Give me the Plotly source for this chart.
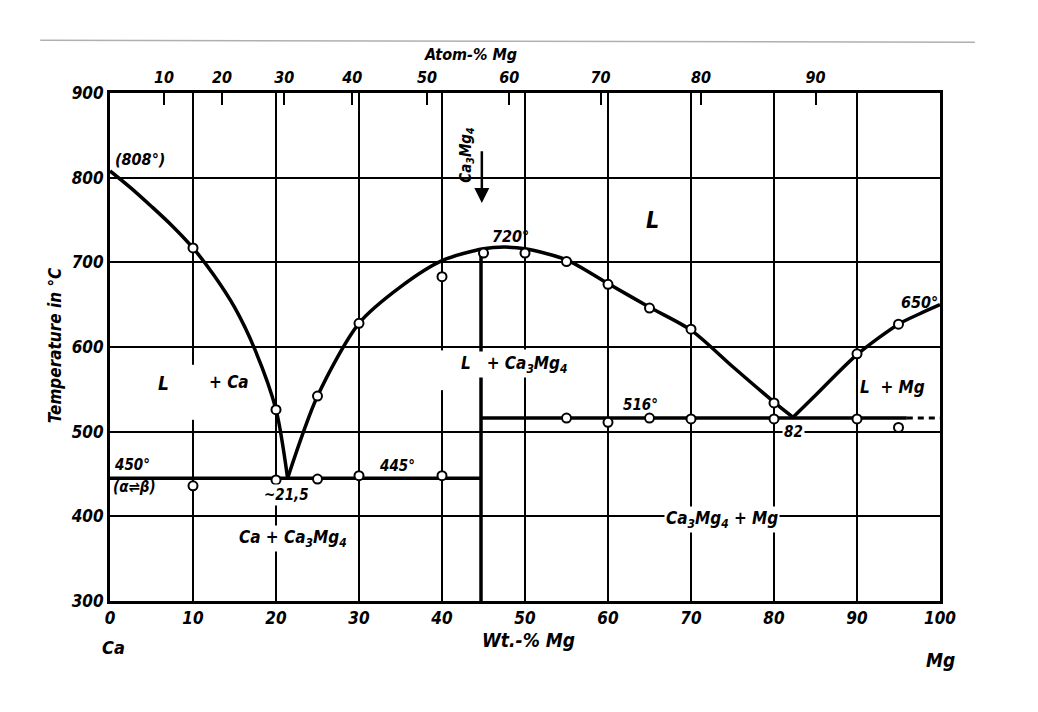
import plotly.graph_objects as go

# Ca-Mg phase diagram: x = wt.-% Mg, y = temperature in °C

# liquidus branches
ca_liq_x = [0, 2.5, 5, 7.5, 10, 12.5, 15, 17.5, 20, 21.4]
ca_liq_t = [808, 788, 766, 743, 717, 685, 647, 596, 526, 445]

mid_liq_x = [21.4, 25, 30, 35, 40, 45, 47.5, 50, 55, 60, 65, 70, 75, 80, 82.3]
mid_liq_t = [445, 542, 628, 671, 702, 716, 718, 716, 703, 675, 647, 620, 577, 535, 517]

mg_liq_x = [82.3, 85, 90, 95, 97.5, 100]
mg_liq_t = [517, 543, 591, 627, 639, 650]

# invariant lines and the compound line
eut_ca_x = [0, 44.7]
eut_ca_t = [445, 445]
eut_mg_x = [44.7, 96]
eut_mg_t = [516, 516]
eut_mg_dash_x = [96, 100]
eut_mg_dash_t = [516, 516]
comp_x = [44.7, 44.7]
comp_t = [300, 716]

# measured points (open circles)
liq_pts_x = [10, 20, 25, 30, 40, 45, 50, 55, 60, 65, 70, 80, 90, 95]
liq_pts_t = [717, 526, 542, 628, 683, 711, 711, 701, 674, 646, 621, 534, 592, 627]
arr_pts_x = [10, 20, 25, 30, 40, 55, 60, 65, 70, 80, 90, 95]
arr_pts_t = [436, 443, 444, 448, 448, 516, 511, 516, 515, 515, 515, 505]

# axes
wt_ticks = [0, 10, 20, 30, 40, 50, 60, 70, 80, 90, 100]
temp_ticks = [300, 400, 500, 600, 700, 800, 900]
atom_labels = ["10", "20", "30", "40", "50", "60", "70", "80", "90"]
atom_pos_wt = [6.5, 13.5, 21.0, 29.2, 38.2, 48.1, 59.1, 71.2, 85.0]

FONT = "Liberation Sans Narrow, DejaVu Sans Condensed, Liberation Sans, sans-serif"


def hand(size=17):
    return dict(family=FONT, size=size, color="black", weight="bold", style="italic")


fig = go.Figure()

curve = dict(color="black", width=3.5, shape="spline", smoothing=0.8)
for xs, ts in [(ca_liq_x, ca_liq_t), (mid_liq_x, mid_liq_t), (mg_liq_x, mg_liq_t)]:
    fig.add_trace(go.Scatter(x=xs, y=ts, mode="lines", line=curve,
                             showlegend=False, hoverinfo="skip"))

for xs, ts in [(eut_ca_x, eut_ca_t), (eut_mg_x, eut_mg_t), (comp_x, comp_t)]:
    fig.add_trace(go.Scatter(x=xs, y=ts, mode="lines",
                             line=dict(color="black", width=3.5),
                             showlegend=False, hoverinfo="skip"))
fig.add_trace(go.Scatter(x=eut_mg_dash_x, y=eut_mg_dash_t, mode="lines",
                         line=dict(color="black", width=3, dash="6px,5px"),
                         showlegend=False, hoverinfo="skip"))

pts = dict(symbol="circle", size=9, color="white", line=dict(color="black", width=2))
fig.add_trace(go.Scatter(x=liq_pts_x, y=liq_pts_t, mode="markers", marker=pts,
                         showlegend=False, hoverinfo="skip"))
fig.add_trace(go.Scatter(x=arr_pts_x, y=arr_pts_t, mode="markers", marker=pts,
                         showlegend=False, hoverinfo="skip"))

# dummy trace so the top (atom-%) axis is drawn
fig.add_trace(go.Scatter(x=[0, 100], y=[300, 300], xaxis="x2", mode="markers",
                         marker=dict(opacity=0), showlegend=False, hoverinfo="skip"))

# labels inside the diagram
labels = [
    ("(808°)", 3.6, 822, 16, None),
    ("450°", 2.7, 461, 15, None),
    ("(α⇌β)", 3.0, 435, 15, None),
    ("~21,5", 21.3, 425, 15, "white"),
    ("445°", 34.6, 459, 15, None),
    ("Ca + Ca<sub>3</sub>Mg<sub>4</sub>", 22.0, 374, 17, "white"),
    ("L", 6.4, 557, 19, None),
    ("+ Ca", 14.3, 559, 17, None),
    ("720°", 48.2, 730, 16, None),
    ("L", 65.4, 750, 23, None),
    ("L   + Ca<sub>3</sub>Mg<sub>4</sub>", 48.7, 579, 17, "white"),
    ("516°", 63.9, 531, 15, None),
    ("Ca<sub>3</sub>Mg<sub>4</sub> + Mg", 73.7, 396, 17, "white"),
    ("82", 82.3, 500, 15, "white"),
    ("650°", 97.5, 652, 16, None),
    ("L  + Mg", 94.3, 553, 17, None),
]
for text, x, y, size, bg in labels:
    fig.add_annotation(x=x, y=y, text=text, showarrow=False, font=hand(size),
                       xanchor="center", yanchor="middle",
                       bgcolor=bg if bg else "rgba(0,0,0,0)", borderpad=1)

# compound arrow
fig.add_annotation(x=44.8, y=770, ax=44.8, ay=833, axref="x", ayref="y",
                   text="", showarrow=True, arrowhead=2, arrowsize=1.2,
                   arrowwidth=2.5, arrowcolor="black")
fig.add_annotation(x=43.0, y=827, text="Ca<sub>3</sub>Mg<sub>4</sub>", textangle=-90,
                   xanchor="center", yanchor="middle", showarrow=False, font=hand(15))

# axis titles and end members
outside = [
    ("Temperature in °C", "paper", -0.066, 0.504, -90, 17),
    ("Atom-% Mg", "x", 43.4, 1.076, 0, 16),
    ("Wt.-% Mg", "x", 50.4, -0.077, 0, 19),
    ("Ca", "paper", 0.004, -0.092, 0, 18),
    ("Mg", "paper", 1.0, -0.116, 0, 19),
]
for text, xref, x, y, angle, size in outside:
    fig.add_annotation(xref=xref, yref="paper", x=x, y=y, text=text, textangle=angle,
                       xanchor="center", yanchor="middle", showarrow=False,
                       font=hand(size))

# gaps in the grid left by the lettering
for x0, x1, y0, y1 in [(9.4, 10.6, 514, 579), (39.4, 40.6, 549, 596), (49.4, 50.6, 565, 597)]:
    fig.add_shape(type="rect", x0=x0, x1=x1, y0=y0, y1=y1, line_width=0,
                  fillcolor="white", layer="above")

# page edge of the scan
fig.add_shape(type="line", xref="paper", yref="paper", x0=-0.084, x1=1.042,
              y0=1.104, y1=1.100, line=dict(color="#b0b0b0", width=1.5))

axis_common = dict(showgrid=True, gridcolor="black", gridwidth=2, zeroline=False,
                   showline=True, linecolor="black", linewidth=3, mirror=True,
                   ticks="", tickfont=hand(17))

fig.update_layout(
    width=1038, height=712,
    # the page body adds 8px, so the frame lands at x 110-940, y 93-601
    margin=dict(l=102, r=106, t=85, b=119),
    paper_bgcolor="white", plot_bgcolor="white",
    xaxis=dict(range=[0, 100], tickvals=wt_ticks, **axis_common),
    yaxis=dict(range=[300, 900], tickvals=temp_ticks, **axis_common),
    xaxis2=dict(range=[0, 100], overlaying="x", side="top", tickvals=atom_pos_wt,
                ticktext=atom_labels, ticks="inside", ticklen=12, tickwidth=2,
                tickcolor="black", showgrid=False, zeroline=False, showline=False,
                ticklabelstandoff=6, tickfont=hand(16)),
    showlegend=False,
)

fig.write_html("out.html")
